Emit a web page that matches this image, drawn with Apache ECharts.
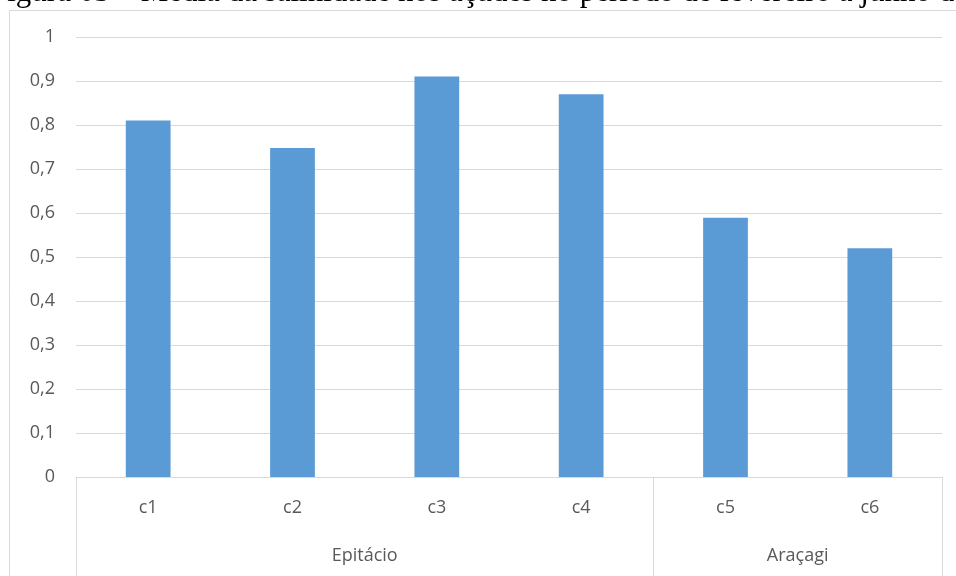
<!DOCTYPE html>
<html>
<head>
<meta charset="utf-8">
<script src="https://cdn.jsdelivr.net/npm/echarts@6/dist/echarts.min.js"></script>
<style>html,body{margin:0;padding:0;background:#fff;}#c{width:956px;height:576px;}</style>
</head>
<body>
<div id="c"></div>
<script>
const categories = ['c1', 'c2', 'c3', 'c4', 'c5', 'c6'];
const values = [0.81, 0.748, 0.91, 0.87, 0.589, 0.52];
const groups = ['Epitácio', 'Araçagi'];
const groupBounds = [0, 4, 6];
const groupCenters = [2, 5];
const yTicks = [0, 0.1, 0.2, 0.3, 0.4, 0.5, 0.6, 0.7, 0.8, 0.9, 1];
const captionText = 'Figura 03 – Média da salinidade nos açudes no período de fevereiro a junho de';

const chart = echarts.init(document.getElementById('c'), null, {renderer: 'canvas'});
const labelFont = '"Open Sans", "Noto Sans", sans-serif';
chart.setOption({
  animation: false,
  backgroundColor: '#fff',
  title: {
    text: captionText,
    left: -10,
    top: -23,
    padding: 0,
    textStyle: {fontFamily: '"Liberation Serif", "DejaVu Serif", serif', fontSize: 31, fontWeight: 'normal', color: '#000'}
  },
  graphic: [{
    type: 'rect', z: -1, silent: true,
    shape: {x: 9.5, y: 10.5, width: 1000, height: 700},
    style: {fill: 'none', stroke: '#d9d9d9', lineWidth: 1}
  }],
  grid: {left: 76, right: 14, top: 37, bottom: 99},
  xAxis: [{
    type: 'category',
    data: categories,
    axisLine: {show: true, lineStyle: {color: '#d9d9d9', width: 1}},
    axisTick: {show: false},
    axisLabel: {color: '#595959', fontSize: 18, fontFamily: labelFont, margin: 22}
  }, {
    type: 'value',
    position: 'bottom',
    min: 0, max: 6,
    axisLine: {show: false},
    splitLine: {show: false},
    axisTick: {show: true, customValues: groupBounds, length: 120, lineStyle: {color: '#d9d9d9', width: 1}},
    axisLabel: {
      customValues: groupCenters,
      color: '#595959', fontSize: 18, fontFamily: labelFont, margin: 70,
      formatter: function (v) { return groups[groupCenters.indexOf(v)]; }
    }
  }],
  yAxis: {
    type: 'value',
    min: 0, max: 1, interval: 0.1,
    axisLine: {show: false},
    axisTick: {show: false},
    splitLine: {lineStyle: {color: '#d9d9d9', width: 1}},
    axisLabel: {
      color: '#595959', fontSize: 18, fontFamily: labelFont, margin: 21,
      formatter: function (v) { return String(Math.round(v * 10) / 10).replace('.', ','); }
    }
  },
  series: [{
    type: 'bar',
    data: values,
    xAxisIndex: 0,
    barWidth: '31%',
    itemStyle: {color: '#5b9bd5'}
  }]
});
</script>
</body>
</html>
